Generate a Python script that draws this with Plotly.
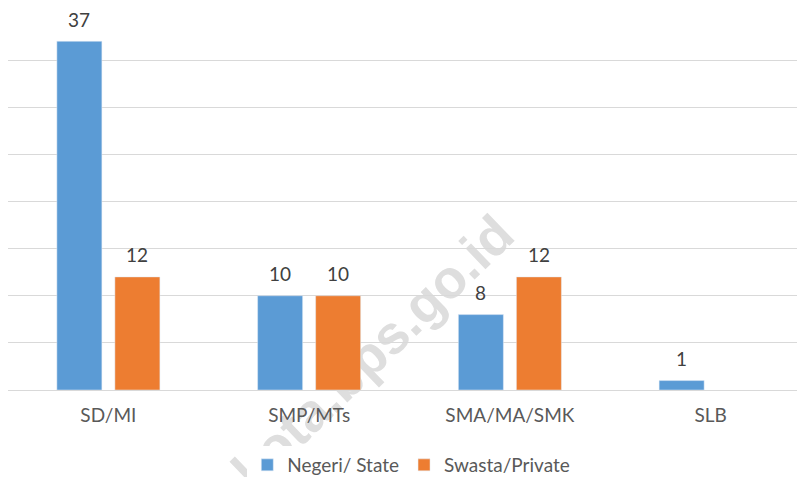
import plotly.graph_objects as go

categories = ["SD/MI", "SMP/MTs", "SMA/MA/SMK", "SLB"]
negeri = [37, 10, 8, 1]
swasta = [12, 10, 12, None]
series_names = ["Negeri/ State", "Swasta/Private"]

BLUE = "#5B9BD5"
ORANGE = "#ED7D31"
FONT = "Lato"

fig = go.Figure()
fig.add_trace(go.Bar(x=categories, y=negeri, name=series_names[0], marker_color=BLUE))
fig.add_trace(go.Bar(x=categories, y=swasta, name=series_names[1], marker_color=ORANGE))

# value labels above bars
for values, shift in ((negeri, -29), (swasta, 29)):
    for cat, v in zip(categories, values):
        if v is None:
            continue
        fig.add_annotation(x=cat, y=v, text=str(v), showarrow=False, xshift=shift,
                           yanchor="middle", yshift=22,
                           font=dict(color="#404040", size=19, family=FONT))

# the page body adds an 8px offset, so the figure is sized to fit the window
fig.update_layout(
    width=797, height=469,
    margin=dict(l=0, r=0, t=5, b=87, autoexpand=False),
    paper_bgcolor="white", plot_bgcolor="white",
    barmode="group", bargap=0.422, bargroupgap=0.224,
    font=dict(family=FONT, size=19, color="#595959"),
    showlegend=True,
    legend=dict(orientation="h", x=0.506, xanchor="center", y=-0.199, yanchor="middle",
                font=dict(size=19, color="#595959"), itemwidth=30, traceorder="normal"),
    xaxis=dict(range=[-0.5, 3.47], showgrid=False, zeroline=False, showline=False,
               ticks="", ticklabelstandoff=12, tickfont=dict(size=19, color="#595959")),
    yaxis=dict(range=[0, 40], dtick=5, showgrid=True, gridcolor="#D9D9D9", gridwidth=1,
               zeroline=True, zerolinecolor="#D9D9D9", zerolinewidth=1,
               showticklabels=False, ticks=""),
    shapes=[dict(type="rect", xref="paper", yref="paper",
                 x0=0.452, x1=0.454, y0=0.110, y1=0.112,
                 line=dict(width=0), fillcolor="rgba(0,0,0,0)", layer="below",
                 label=dict(text="<b>kota.bps.go.id</b>", textangle=-44,
                            textposition="middle center",
                            font=dict(family="Liberation Sans", size=54, color="#DEDEDE")))],
)

fig.write_html("out.html")
